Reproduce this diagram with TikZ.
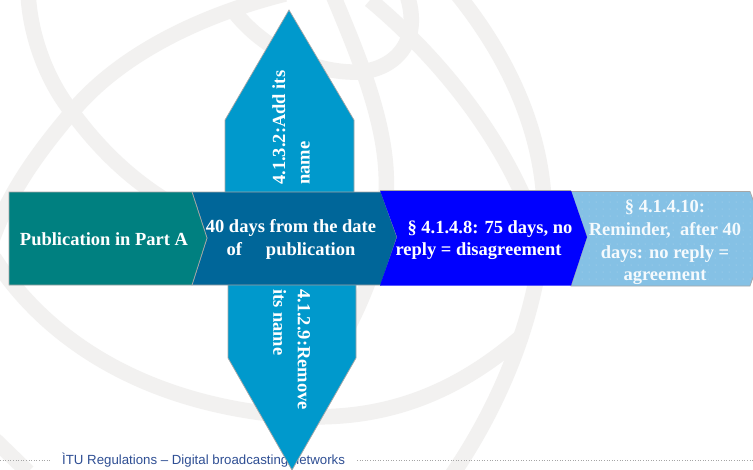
\documentclass[tikz,border=0pt]{standalone}
\usepackage{fontspec}
\setmainfont{Liberation Serif}
\newfontfamily\footfont{Liberation Sans}
\definecolor{wm}{HTML}{F2F1F0}
\definecolor{teal1}{HTML}{008080}
\definecolor{navy1}{HTML}{006699}
\definecolor{blue1}{HTML}{0000FF}
\definecolor{sky1}{HTML}{85C1E5}
\definecolor{cyan1}{HTML}{0099CC}
\definecolor{edge1}{HTML}{A6A6A6}
\definecolor{foot1}{HTML}{2F4F94}
\tikzset{
  wmark/.style={draw=wm,line width=15.5pt,line cap=butt},
  chev/.style={draw=edge1,line width=0.7pt,line join=miter},
  lbl/.style={text=white,font=\bfseries\fontsize{18.5}{22.5}\selectfont,inner sep=0pt},
  vlbl/.style={text=white,font=\bfseries\fontsize{18.5}{24.5}\selectfont,inner sep=0pt,align=left},
  dotl/.style={draw=edge1,line width=1pt,dash pattern=on 1pt off 1.6pt}
}
\begin{document}
\begin{tikzpicture}[x=1pt,y=-1pt]
\useasboundingbox (0,0) rectangle (753,469);
\fill[white] (0,0) rectangle (753,469);
\begin{scope}
\clip (0,0) rectangle (753,469);
% globe watermark
\draw[wmark] (28,-8) .. controls (30,40) and (50,85) .. (72,112) .. controls (100,150) and (130,178) .. (165,200);
\draw[wmark] (-8,240) .. controls (10,190) and (40,150) .. (72,112) .. controls (115,60) and (190,18) .. (285,-6);
\draw[wmark] (233,10) .. controls (255,40) and (300,70) .. (350,72) .. controls (390,74) and (425,45) .. (406,-8);
\draw[wmark] (333,-5) .. controls (360,60) and (390,130) .. (386,195) .. controls (384,250) and (365,300) .. (330,360);
\draw[wmark] (370,0) .. controls (430,50) and (490,120) .. (525,200);
\draw[wmark] (458,-5) .. controls (510,60) and (540,130) .. (544,200) .. controls (545,290) and (510,390) .. (452,475);
\draw[wmark] (-6,258) .. controls (40,330) and (130,400) .. (280,415) .. controls (380,425) and (455,394) .. (522,336);
\draw[wmark] (-5,440) -- (28,472);
\end{scope}
% footer
\draw[dotl] (0,460) -- (50,460);
\draw[dotl] (357,460) -- (753,460);
\node[anchor=west,inner sep=0pt,text=foot1,font=\footfont\fontsize{13.25}{15}\selectfont] (foot) at (62,460) {ÌTU Regulations – Digital broadcasting networks};
% vertical arrows
\draw[chev,fill=cyan1] (225,193) -- (225,120) -- (289,10) -- (354,120) -- (354,193) -- cycle;
\draw[chev,fill=cyan1] (228,284) -- (228,358) -- (292,470) -- (356,358) -- (356,284) -- cycle;
% chevrons
\begin{scope}
\clip (0,0) rectangle (753,469);
\draw[chev,fill=sky1] (571,191.5) -- (750,191.5) -- (767,238) -- (750,286) -- (571,286) -- (587,237) -- cycle;
\clip (571,191.5) -- (750,191.5) -- (767,238) -- (750,286) -- (571,286) -- (587,237) -- cycle;
\foreach \yy in {195,202,...,285}
  \foreach \xx in {575,582,...,753}
    \fill[white,opacity=.35] (\xx,\yy) circle[radius=.5];
\end{scope}
\draw[chev,fill=navy1] (192,192) -- (381,192) -- (397,237) -- (381,285) -- (192,285) -- (207,238) -- cycle;
\draw[chev,fill=teal1] (9,192) -- (192,192) -- (207,238) -- (192,285) -- (9,285) -- cycle;
\fill[blue1] (380,190.5) -- (571,190.5) -- (587,237) -- (571,285.5) -- (380,285.5) -- (397,237) -- cycle;
\draw[edge1,line width=.7pt] (380,190.5) -- (571,190.5);
% labels
\node[lbl] (pub) at (104,239) {Publication in Part A};
\node[lbl,align=center] (forty) at (291,239.5) {40 days from the date\\of\hspace{24pt}publication};
\node[lbl,align=left] (dis) at (484,240) {\hspace*{12pt}§ 4.1.4.8: 75 days, no\\reply = disagreement};
\node[lbl,align=center,text=white!92!sky1,font=\bfseries\fontsize{18.5}{22.8}\selectfont] (rem) at (665,242.5) {§ 4.1.4.10:\\Reminder,\ \ after 40\\days: no reply =\\agreement};
\node[vlbl,rotate=90,anchor=south west] (add) at (310,185) {4.1.3.2:Add its\\name};
\node[vlbl,rotate=-90,anchor=south west] (rm) at (273,289) {4.1.2.9:Remove\\its name};
\end{tikzpicture}
\end{document}
